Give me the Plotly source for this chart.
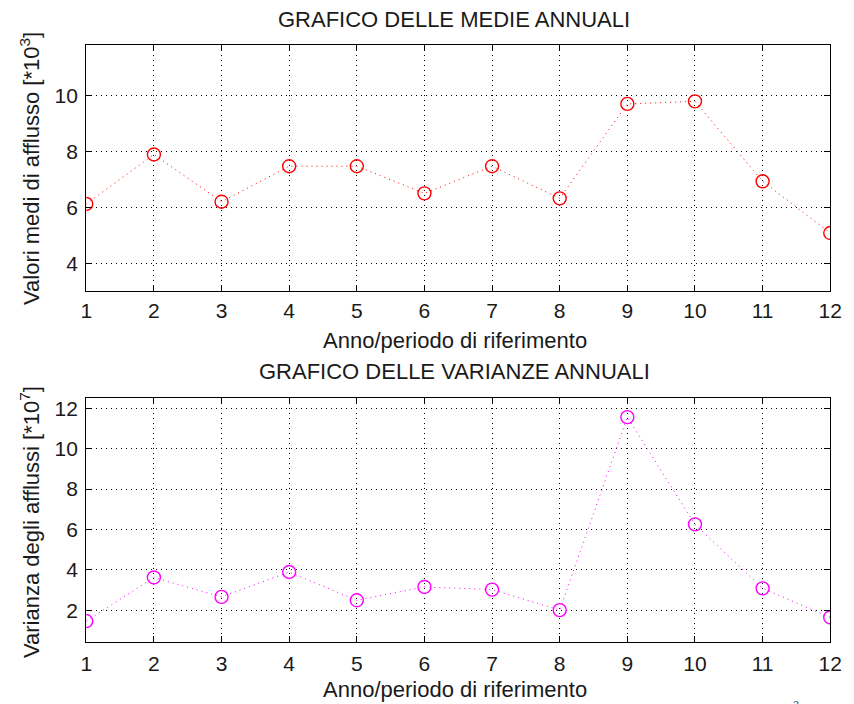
import plotly.graph_objects as go

W, H = 854, 704

anni = list(range(1, 13))
medie = [6.12, 7.89, 6.20, 7.47, 7.47, 6.50, 7.47, 6.32, 9.70, 9.79, 6.93, 5.08]
varianze = [1.46, 3.62, 2.66, 3.89, 2.49, 3.15, 3.02, 2.00, 11.56, 6.25, 3.08, 1.64]
xticks = list(range(1, 13))
yticks_top = [4, 6, 8, 10]
yticks_bot = [2, 4, 6, 8, 10, 12]

FONT = "Liberation Sans, Arial, sans-serif"
TXT = "#1a1a1a"

def px(x):
    return x / W

def py(y):
    return 1 - y / H

L, R = 82, 842
TOP1, BOT1 = 43.3, 290
TOP2, BOT2 = 397.3, 642.3

fig = go.Figure()
fig.add_trace(go.Scatter(
    x=anni, y=medie, mode="lines+markers", xaxis="x", yaxis="y",
    line=dict(color="#ff0000", width=1, dash="1px,4px"),
    marker=dict(symbol="circle-open", size=13, color="#ff0000", line=dict(width=1.4, color="#ff0000")),
    showlegend=False))
fig.add_trace(go.Scatter(
    x=anni, y=varianze, mode="lines+markers", xaxis="x2", yaxis="y2",
    line=dict(color="#ff00ff", width=1, dash="1px,4px"),
    marker=dict(symbol="circle-open", size=13, color="#ff00ff", line=dict(width=1.4, color="#ff00ff")),
    showlegend=False))

common_axis = dict(
    showline=True, linecolor="black", linewidth=1.2, mirror="ticks",
    ticks="inside", ticklen=6, tickcolor="black", tickwidth=1,
    showgrid=True, gridcolor="black", gridwidth=1, griddash="1px,4px",
    zeroline=False, tickfont=dict(family=FONT, size=21, color=TXT),
)

fig.update_layout(
    width=W, height=H,
    margin=dict(l=0, r=0, t=0, b=0),
    paper_bgcolor="white", plot_bgcolor="white",
    xaxis=dict(domain=[px(L), px(R)], anchor="y", range=[1, 12], tickvals=xticks,
               ticklabelstandoff=1, **common_axis),
    yaxis=dict(domain=[py(BOT1), py(TOP1)], anchor="x", range=[3, 11.8], tickvals=yticks_top,
               ticklabelstandoff=3, **common_axis),
    xaxis2=dict(domain=[px(L), px(R)], anchor="y2", range=[1, 12], tickvals=xticks,
                ticklabelstandoff=2, **common_axis),
    yaxis2=dict(domain=[py(BOT2), py(TOP2)], anchor="x2", range=[0.4, 12.5], tickvals=yticks_bot,
                ticklabelstandoff=3, **common_axis),
)

def ann(text, x, y, size=22, angle=0):
    fig.add_annotation(text=text, x=px(x), y=py(y), xref="paper", yref="paper",
                       showarrow=False, xanchor="center", yanchor="middle", textangle=angle,
                       font=dict(family=FONT, size=size, color=TXT))

ann("GRAFICO DELLE MEDIE ANNUALI", 458, 18)
ann("Anno/periodo di riferimento", 459, 339)
ann("Valori medi di afflusso [*10<sup>3</sup>]", 24, 167, angle=-90)
ann("GRAFICO DELLE VARIANZE ANNUALI", 458, 371)
ann("Anno/periodo di riferimento", 459, 689)
ann("Varianza degli afflussi [*10<sup>7</sup>]", 24, 521, angle=-90)
fig.add_annotation(text="3", x=px(807), y=py(697), xref="paper", yref="paper", showarrow=False,
                   xanchor="center", yanchor="top", font=dict(family=FONT, size=11, color="#555"))

fig.write_html("out.html", config={"displayModeBar": False},
               post_script="document.body.style.margin='0';document.body.style.overflow='hidden';")
